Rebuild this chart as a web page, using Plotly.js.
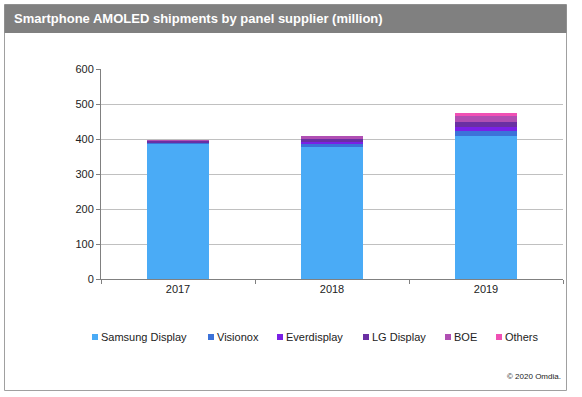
<!DOCTYPE html>
<html><head><meta charset="utf-8">
<script src="https://cdn.plot.ly/plotly-3.0.1.min.js"></script>
<style>html,body{margin:0;padding:0;background:#fff}#chart{width:582px;height:397px}</style>
</head><body><div id="chart"></div>
<script>
const years = ['2017', '2018', '2019'];
const suppliers = ['Samsung Display', 'Visionox', 'Everdisplay', 'LG Display', 'BOE', 'Others'];
const samsung = [385, 378, 409];
const visionox = [3, 9, 13];
const everdisplay = [2, 5, 12];
const lgdisplay = [3, 8, 14];
const boe = [3, 8, 19];
const others = [1, 1, 7];
const colors = ['#4aabf6', '#3c72d9', '#7a20e6', '#6a2fa3', '#b04fb3', '#f050b4'];
const series = [samsung, visionox, everdisplay, lgdisplay, boe, others];

const W = 582, H = 397;
const L = 101, R = 563, T = 69, B = 279;
const px = x => (x - L) / (R - L);
const py = y => (B - y) / (B - T);

const traces = series.map((vals, i) => ({
  type: 'bar', name: suppliers[i], x: years, y: vals,
  marker: {color: colors[i], line: {width: 0}},
  hoverinfo: 'name+y', showlegend: false
}));

const fam = 'Arial, "Liberation Sans", sans-serif';
const font = {family: fam, size: 11, color: '#222'};

// legend drawn as small squares + text labels (left pixel positions of each square)
const legendX = [92, 208, 277, 363, 445, 496];
const legendY = 337;
const shapes = [
  {type: 'rect', xref: 'paper', yref: 'paper', x0: px(4.5), x1: px(566.5), y0: py(390.5), y1: py(4.5),
   line: {color: '#a0a0a0', width: 1}, fillcolor: 'rgba(0,0,0,0)', layer: 'below'},
  {type: 'rect', xref: 'paper', yref: 'paper', x0: px(4.5), x1: px(566.5), y0: py(33), y1: py(4.5),
   line: {width: 0}, fillcolor: '#808080', layer: 'below'}
];
const annotations = [
  {text: '© 2020 Omdia.', xref: 'paper', yref: 'paper', x: px(563), y: py(376),
   xanchor: 'right', yanchor: 'middle', showarrow: false,
   font: {family: fam, size: 8, color: '#222'}}
];
suppliers.forEach((s, i) => {
  const x0 = legendX[i];
  shapes.push({type: 'rect', xref: 'paper', yref: 'paper', x0: px(x0), x1: px(x0 + 6),
    y0: py(legendY + 3), y1: py(legendY - 3), line: {width: 0}, fillcolor: colors[i]});
  annotations.push({text: s, xref: 'paper', yref: 'paper', x: px(x0 + 7), y: py(legendY),
    xanchor: 'left', yanchor: 'middle', showarrow: false, font: font});
});

const layout = {
  width: W, height: H,
  margin: {l: L, r: W - R, t: T, b: H - B, pad: 0},
  barmode: 'stack', bargap: 0.6,
  paper_bgcolor: '#fff', plot_bgcolor: '#fff',
  font: font,
  showlegend: false,
  title: {
    text: '<b>Smartphone AMOLED shipments by panel supplier (million)</b>',
    font: {family: fam, size: 13, color: '#fff'},
    xref: 'container', yref: 'container', x: 14 / W, y: 1 - 18.5 / H,
    xanchor: 'left', yanchor: 'middle'
  },
  xaxis: {
    type: 'category', showgrid: false, showline: true, linecolor: '#808080', linewidth: 1,
    ticks: 'outside', ticklen: 4, tickcolor: '#808080', tickson: 'boundaries',
    tickfont: font, fixedrange: true
  },
  yaxis: {
    range: [0, 600], dtick: 100, showgrid: true, gridcolor: '#c0c0c0', gridwidth: 1,
    showline: true, linecolor: '#808080', linewidth: 1, zeroline: false,
    ticks: 'outside', ticklen: 4, tickcolor: '#808080', tickfont: font, fixedrange: true
  },
  shapes: shapes,
  annotations: annotations
};

Plotly.newPlot('chart', traces, layout, {displayModeBar: false, staticPlot: true});
</script></body></html>
